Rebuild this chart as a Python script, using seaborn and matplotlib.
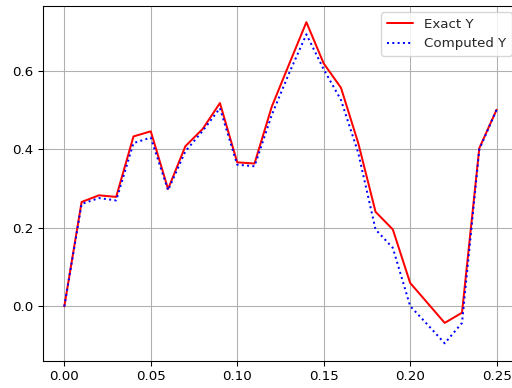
import numpy as np
import pandas as pd
import matplotlib
matplotlib.use("Agg")
import matplotlib.pyplot as plt
import seaborn as sns

x_values = [0.00, 0.01, 0.02, 0.03, 0.04, 0.05, 0.06, 0.07, 0.08, 0.09,
            0.10, 0.11, 0.12, 0.13, 0.14, 0.15, 0.16, 0.17, 0.18, 0.19,
            0.20, 0.21, 0.22, 0.23, 0.24, 0.25]
exact_y = [0.000, 0.266, 0.283, 0.279, 0.433, 0.446, 0.299, 0.408, 0.452, 0.518,
           0.367, 0.364, 0.509, 0.617, 0.724, 0.619, 0.557, 0.416, 0.241, 0.196,
           0.060, 0.009, -0.042, -0.016, 0.403, 0.501]
computed_y = [0.000, 0.261, 0.276, 0.270, 0.416, 0.430, 0.296, 0.395, 0.447, 0.505,
              0.361, 0.357, 0.488, 0.594, 0.693, 0.604, 0.526, 0.391, 0.196, 0.149,
              0.001, -0.046, -0.094, -0.042, 0.400, 0.501]

df = pd.DataFrame({"x": x_values, "exact": exact_y, "computed": computed_y})

sns.set_style("ticks")
plt.rcParams["font.family"] = ["DejaVu Sans"]

DPI = 96
fig = plt.figure(figsize=(512 / DPI, 388 / DPI), dpi=DPI)
ax = fig.add_axes([0.0834, 0.0696, 0.9287, 0.9157])

sns.lineplot(data=df, x="x", y="exact", ax=ax, color="red", linestyle="-",
             linewidth=1.5, label="Exact Y")
sns.lineplot(data=df, x="x", y="computed", ax=ax, color="blue", linestyle=":",
             linewidth=1.5, label="Computed Y")

ax.set_xlim(-0.0125, 0.2625)
ax.set_ylim(-0.139, 0.766)
ax.set_xticks([0.00, 0.05, 0.10, 0.15, 0.20, 0.25])
ax.set_xticklabels(["0.00", "0.05", "0.10", "0.15", "0.20", "0.25"])
ax.set_yticks([0.0, 0.2, 0.4, 0.6])
ax.set_yticklabels(["0.0", "0.2", "0.4", "0.6"])
ax.set_xlabel("")
ax.set_ylabel("")
ax.grid(True, color="#b0b0b0", linewidth=0.8)
ax.tick_params(labelsize=10, length=3.5, width=0.8, colors="black")
for s in ax.spines.values():
    s.set_linewidth(0.8)
    s.set_color("black")
leg = ax.legend(loc="upper right", fontsize=10, frameon=True, fancybox=True)
leg.get_frame().set_edgecolor("#cccccc")

fig.savefig("out.png", dpi=DPI)
